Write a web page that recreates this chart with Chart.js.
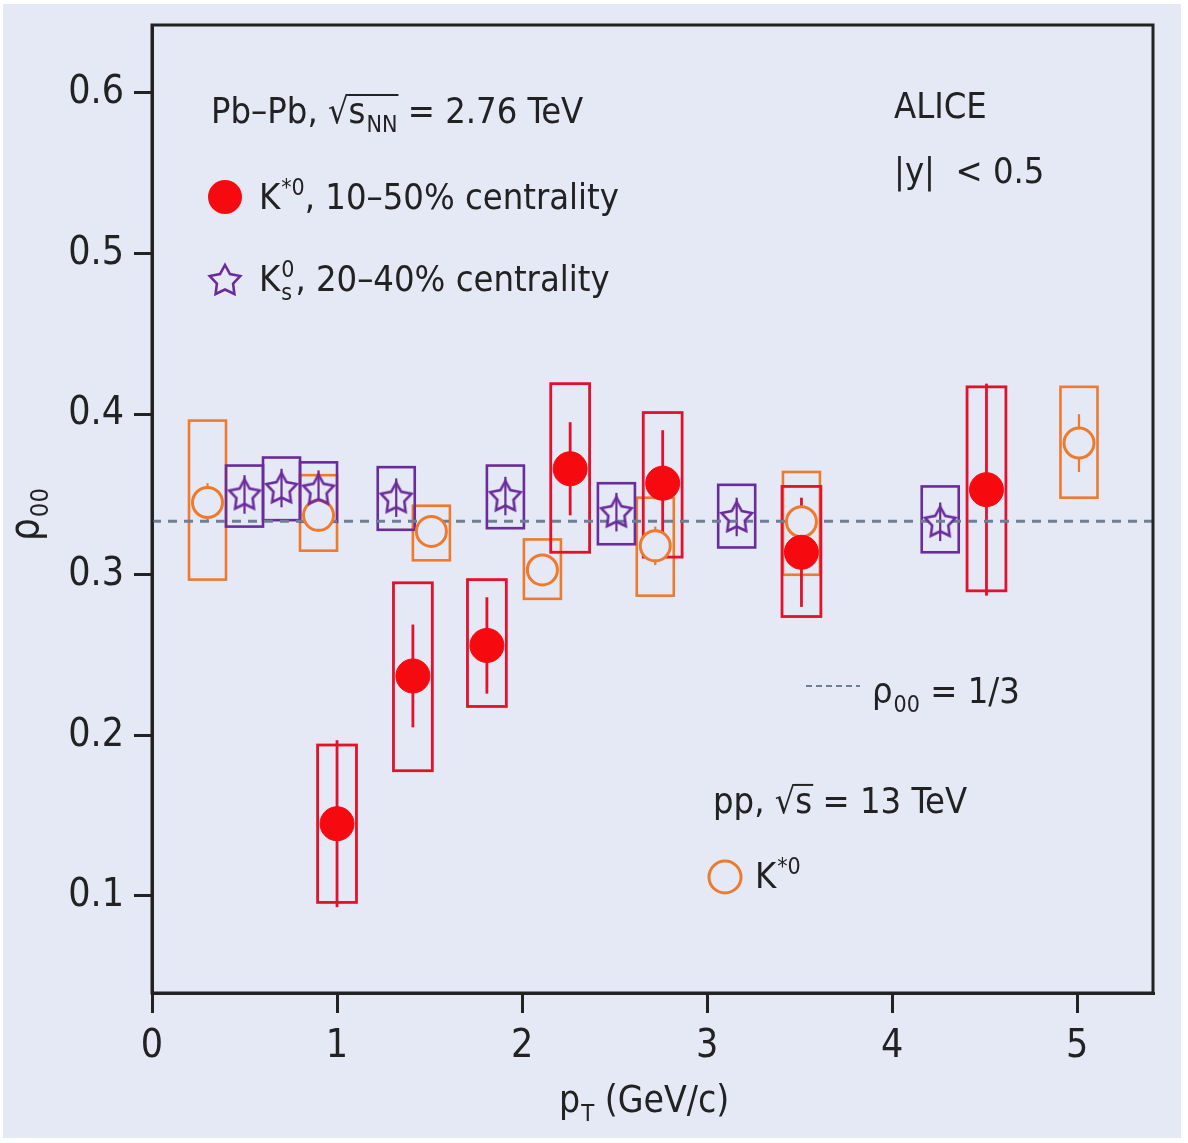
<!DOCTYPE html>
<html>
<head>
<meta charset="utf-8">
<script src="https://cdn.jsdelivr.net/npm/chart.js@4.4.1/dist/chart.umd.min.js"></script>
<style>
  html, body { margin: 0; padding: 0; background: #ffffff; }
  #wrap { position: relative; width: 1188px; height: 1143px; }
</style>
</head>
<body>
<div id="wrap"><canvas id="c" width="1188" height="1143"></canvas></div>
<script>
// ---------------- DATA ----------------
const xTicks = [0, 1, 2, 3, 4, 5];
const yTicks = [0.1, 0.2, 0.3, 0.4, 0.5, 0.6];
const rhoRef = 1 / 3;

// Pb-Pb K*0, 10-50% centrality
const kstarPbX     = [1.00, 1.41, 1.81, 2.26, 2.76, 3.51, 4.51];
const kstarPbY     = [0.145, 0.237, 0.256, 0.366, 0.357, 0.314, 0.353];
const kstarPbStat  = [0.052, 0.032, 0.030, 0.029, 0.033, 0.034, 0.066];
const kstarPbSysLo = [0.096, 0.178, 0.218, 0.314, 0.311, 0.274, 0.290];
const kstarPbSysHi = [0.194, 0.295, 0.297, 0.419, 0.401, 0.355, 0.417];

// Pb-Pb K0s, 20-40% centrality
const k0sX     = [0.50, 0.70, 0.90, 1.32, 1.91, 2.51, 3.16, 4.26];
const k0sY     = [0.350, 0.354, 0.353, 0.348, 0.349, 0.339, 0.336, 0.333];
const k0sStat  = [0.012, 0.012, 0.012, 0.012, 0.012, 0.012, 0.012, 0.012];
const k0sSysLo = [0.330, 0.334, 0.333, 0.328, 0.329, 0.319, 0.317, 0.314];
const k0sSysHi = [0.368, 0.373, 0.370, 0.367, 0.368, 0.357, 0.356, 0.355];

// pp K*0, 13 TeV
const kstarPpX     = [0.30, 0.90, 1.51, 2.11, 2.72, 3.51, 5.01];
const kstarPpY     = [0.345, 0.337, 0.327, 0.303, 0.318, 0.333, 0.382];
const kstarPpStat  = [0.012, 0.010, 0.008, 0.008, 0.012, 0.010, 0.018];
const kstarPpSysLo = [0.297, 0.315, 0.309, 0.285, 0.287, 0.300, 0.348];
const kstarPpSysHi = [0.396, 0.362, 0.343, 0.322, 0.348, 0.364, 0.417];

// ---------------- STYLE ----------------
const FONT = '"Liberation Sans Narrow", "DejaVu Sans Condensed", "Liberation Sans", sans-serif';
const INK = '#222222';
const RED = '#f70a0f';
const RED_BOX = '#e3112b';
const ORANGE = '#ee7a2e';
const PURPLE = '#6a2b9c';
const DASH = '#6f7e93';
const BG = '#e5e8f5';

function starPath(ctx, cx, cy, R, r) {
  ctx.beginPath();
  for (let i = 0; i < 10; i++) {
    const a = -Math.PI / 2 + i * Math.PI / 5;
    const rr = (i % 2 === 0) ? R : r;
    const px = cx + rr * Math.cos(a), py = cy + rr * Math.sin(a);
    if (i === 0) ctx.moveTo(px, py); else ctx.lineTo(px, py);
  }
  ctx.closePath();
}
const starImg = document.createElement('canvas');
starImg.width = 40; starImg.height = 40;
(function () {
  const c = starImg.getContext('2d');
  c.strokeStyle = PURPLE; c.lineWidth = 2.6; c.lineJoin = 'miter';
  starPath(c, 20, 21, 16, 8.5);
  c.stroke();
})();

function pts(xs, ys) { return xs.map((x, i) => ({ x: x, y: ys[i] })); }

// draw text runs with sub/superscripts
function drawRuns(ctx, x, y, runs, size) {
  const small = size * 0.64;
  for (const r of runs) {
    if (typeof r === 'string') {
      ctx.font = size + 'px ' + FONT;
      ctx.fillText(r, x, y);
      x += ctx.measureText(r).width;
    } else if (r.sub !== undefined && r.sup !== undefined) {
      ctx.font = small + 'px ' + FONT;
      ctx.fillText(r.sup, x + 1, y - size * 0.40);
      ctx.fillText(r.sub, x + 1, y + size * 0.24);
      x += Math.max(ctx.measureText(r.sup).width, ctx.measureText(r.sub).width) + 2;
    } else if (r.sub !== undefined) {
      ctx.font = small + 'px ' + FONT;
      ctx.fillText(r.sub, x + 1, y + size * 0.24);
      x += ctx.measureText(r.sub).width + 1;
    } else if (r.sup !== undefined) {
      ctx.font = small + 'px ' + FONT;
      ctx.fillText(r.sup, x + 1, y - size * 0.40);
      x += ctx.measureText(r.sup).width + 1;
    } else if (r.over) {
      const x0 = x;
      x = drawRuns(ctx, x, y, r.over, size);
      ctx.save();
      ctx.strokeStyle = ctx.fillStyle;
      ctx.lineWidth = 2;
      ctx.beginPath();
      ctx.moveTo(x0 - 1, y - size * 0.78);
      ctx.lineTo(x + 1, y - size * 0.78);
      ctx.stroke();
      ctx.restore();
    }
  }
  return x;
}

const bgPlugin = {
  id: 'bg',
  beforeDraw(chart) {
    const ctx = chart.ctx;
    ctx.save();
    ctx.fillStyle = '#ffffff';
    ctx.fillRect(0, 0, chart.width, chart.height);
    ctx.fillStyle = BG;
    ctx.fillRect(3, 4, 1178, 1134);
    ctx.restore();
  }
};

const errPlugin = {
  id: 'errs',
  beforeDatasetsDraw(chart) {
    const ctx = chart.ctx, xs = chart.scales.x, ys = chart.scales.y;
    const a = chart.chartArea;
    ctx.save();
    ctx.beginPath(); ctx.rect(a.left, a.top, a.right - a.left, a.bottom - a.top); ctx.clip();
    function boxes(X, Lo, Hi, half, color, lw) {
      ctx.strokeStyle = color; ctx.lineWidth = lw;
      X.forEach((x, i) => {
        const l = xs.getPixelForValue(x - half), r = xs.getPixelForValue(x + half);
        const t = ys.getPixelForValue(Hi[i]), b = ys.getPixelForValue(Lo[i]);
        ctx.strokeRect(l, t, r - l, b - t);
      });
    }
    function bars(X, Y, S, color, lw) {
      ctx.strokeStyle = color; ctx.lineWidth = lw;
      X.forEach((x, i) => {
        const px = xs.getPixelForValue(x);
        ctx.beginPath();
        ctx.moveTo(px, ys.getPixelForValue(Y[i] + S[i]));
        ctx.lineTo(px, ys.getPixelForValue(Y[i] - S[i]));
        ctx.stroke();
      });
    }
    boxes(kstarPpX, kstarPpSysLo, kstarPpSysHi, 0.10, ORANGE, 2.6);
    boxes(k0sX, k0sSysLo, k0sSysHi, 0.10, PURPLE, 2.6);
    boxes(kstarPbX, kstarPbSysLo, kstarPbSysHi, 0.105, RED_BOX, 2.8);
    bars(kstarPpX, kstarPpY, kstarPpStat, ORANGE, 2.2);
    bars(k0sX, k0sY, k0sStat, PURPLE, 2.2);
    bars(kstarPbX, kstarPbY, kstarPbStat, RED_BOX, 2.8);
    ctx.restore();
  }
};

const annoPlugin = {
  id: 'anno',
  afterDraw(chart) {
    const ctx = chart.ctx, a = chart.chartArea;
    ctx.save();
    // frame
    ctx.strokeStyle = INK; ctx.lineWidth = 3;
    ctx.strokeRect(a.left, a.top, a.right - a.left, a.bottom - a.top);

    ctx.fillStyle = INK;
    ctx.textBaseline = 'alphabetic';
    ctx.textAlign = 'left';
    const S = 36;
    drawRuns(ctx, 211, 123, ['Pb\u2013Pb, \u221A', { over: ['s', { sub: 'NN' }] }, ' = 2.76 TeV'], S);
    drawRuns(ctx, 259, 209, ['K', { sup: '*0' }, ', 10\u201350% centrality'], S);
    drawRuns(ctx, 259, 291, ['K', { sup: '0', sub: 's' }, ', 20\u201340% centrality'], S);
    drawRuns(ctx, 894, 118, ['ALICE'], S);
    drawRuns(ctx, 894, 183, ['|y|  < 0.5'], S);
    drawRuns(ctx, 872, 703, ['\u03C1', { sub: '00' }, ' = 1/3'], S);
    drawRuns(ctx, 713, 813, ['pp, \u221A', { over: ['s'] }, ' = 13 TeV'], S);
    drawRuns(ctx, 755, 888, ['K', { sup: '*0' }], S);

    // legend markers
    ctx.fillStyle = RED;
    ctx.beginPath(); ctx.arc(225, 197, 17, 0, Math.PI * 2); ctx.fill();
    ctx.strokeStyle = PURPLE; ctx.lineWidth = 2.6;
    starPath(ctx, 225, 281, 16, 8.5); ctx.stroke();
    ctx.strokeStyle = ORANGE; ctx.lineWidth = 3;
    ctx.beginPath(); ctx.arc(725, 877, 16, 0, Math.PI * 2); ctx.stroke();
    ctx.strokeStyle = DASH; ctx.lineWidth = 2; ctx.setLineDash([6, 4]);
    ctx.beginPath(); ctx.moveTo(806, 686); ctx.lineTo(860, 686); ctx.stroke();
    ctx.setLineDash([]);

    // axis titles
    ctx.fillStyle = INK;
    drawRuns(ctx, 559, 1112, ['p', { sub: 'T' }, ' (GeV/c)'], 37);
    ctx.translate(38, 541);
    ctx.rotate(-Math.PI / 2);
    drawRuns(ctx, 0, 0, ['\u03C1', { sub: '00' }], 40);
    ctx.restore();
  }
};

const tickFont = { family: FONT, size: 39 };

new Chart(document.getElementById('c'), {
  type: 'scatter',
  data: {
    datasets: [
      { label: 'K*0 Pb-Pb', data: pts(kstarPbX, kstarPbY), pointStyle: 'circle', pointRadius: 17,
        backgroundColor: RED, borderColor: RED, borderWidth: 1 },
      { label: 'K0s Pb-Pb', data: pts(k0sX, k0sY), pointStyle: starImg, pointRadius: 16 },
      { label: 'K*0 pp', data: pts(kstarPpX, kstarPpY), pointStyle: 'circle', pointRadius: 15,
        backgroundColor: BG, borderColor: ORANGE, borderWidth: 3 },
      { label: 'rho00 = 1/3', data: [{ x: 0, y: rhoRef }, { x: 5.41, y: rhoRef }], showLine: true,
        pointRadius: 0, borderColor: DASH, borderWidth: 3, borderDash: [9, 7] }
    ]
  },
  options: {
    responsive: false,
    animation: false,
    events: [],
    layout: { padding: { top: 25, right: 35, left: 0, bottom: 0 } },
    plugins: { legend: { display: false }, tooltip: { enabled: false } },
    scales: {
      x: {
        type: 'linear', min: 0, max: 5.41,
        afterFit(s) { s.height = 150; s.paddingLeft = 0; s.paddingRight = 0; },
        afterBuildTicks(s) { s.ticks = xTicks.map(v => ({ value: v })); },
        ticks: { font: tickFont, color: INK, padding: 10, callback: v => String(v), maxRotation: 0 },
        grid: { display: true, drawOnChartArea: false, drawTicks: true, tickLength: 20, color: INK, lineWidth: 3 },
        border: { display: true, color: INK, width: 3 }
      },
      y: {
        type: 'linear', min: 0.0396, max: 0.6423,
        afterFit(s) { s.width = 152; s.paddingTop = 0; s.paddingBottom = 0; },
        afterBuildTicks(s) { s.ticks = yTicks.map(v => ({ value: v })); },
        ticks: { font: tickFont, color: INK, padding: 10, callback: v => v.toFixed(1) },
        grid: { display: true, drawOnChartArea: false, drawTicks: true, tickLength: 18, color: INK, lineWidth: 3 },
        border: { display: true, color: INK, width: 3 }
      }
    }
  },
  plugins: [bgPlugin, errPlugin, annoPlugin]
});
</script>
</body>
</html>
